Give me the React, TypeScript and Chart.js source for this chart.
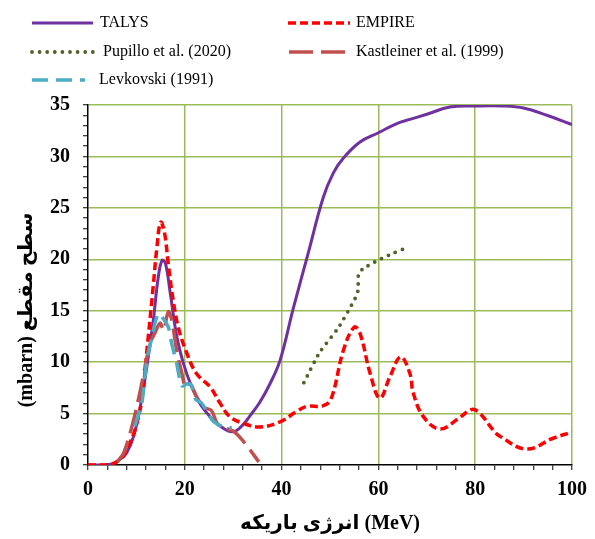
import React, { useEffect, useRef } from 'react';
import { Chart, registerables } from 'chart.js';

Chart.register(...registerables);

// Beam energy (MeV) and cross section (mbarn) for each series
const talysEnergy = [0, 3, 5, 6.5, 8, 9.5, 11, 12.3, 13.5, 14.5, 15.3, 16, 17, 18.3, 19.7, 21.1, 23.1, 25.2, 27, 29, 30.5, 32, 33.5, 35.5, 37.6, 39.7, 42.4, 45.5, 48.6, 50.7, 52.7, 56.2, 60, 63.8, 66.5, 70, 74.8, 80, 85.8, 90, 94.8, 100];
const talysXs = [0, 0, 0.1, 0.5, 1.2, 2.9, 6.2, 10, 14.1, 18.2, 19.9, 19.6, 16.7, 12.6, 9.9, 8, 6, 4.7, 3.9, 3.3, 3.3, 3.9, 4.8, 6.1, 7.9, 10.2, 15.2, 20.6, 26, 28.4, 29.8, 31.4, 32.3, 33.2, 33.6, 34.1, 34.8, 34.9, 34.9, 34.7, 34, 33.1];

const empireEnergy = [0, 3, 5, 6.5, 7.5, 8.5, 9.7, 11.1, 12.1, 13.5, 14.2, 15, 15.8, 16.6, 17.6, 18.7, 20.4, 22.4, 25.2, 27.3, 29.3, 32.1, 35.5, 39.7, 43.1, 45.2, 48.5, 50.2, 52.8, 55, 56.2, 58.3, 60.3, 62.4, 64.6, 66.5, 67.2, 69.3, 72.7, 76.5, 79.3, 81, 83.7, 85.1, 90.6, 96.1, 100];
const empireXs = [0, 0, 0.1, 0.5, 1.0, 2.0, 3.4, 6.3, 10.8, 17.5, 21, 23.6, 22.6, 19.5, 16, 13.3, 10.9, 8.9, 7.6, 6.0, 4.7, 4.05, 3.7, 4.2, 5.2, 5.7, 5.75, 6.4, 11.2, 13.4, 12.8, 8.9, 6.5, 8.6, 10.5, 8.9, 7.0, 4.7, 3.5, 4.5, 5.4, 5.0, 3.4, 2.8, 1.55, 2.6, 3.2];

const pupilloEnergy = [44.6, 47.8, 51.8, 55.2, 55.8, 55.9, 56.9, 59.9, 63.1, 66.3];
const pupilloXs = [8.0, 10.9, 13.4, 16.2, 17.0, 18.6, 19.1, 19.9, 20.6, 21.2];

const kastleinerEnergy = [6, 7.3, 8.7, 10, 11.4, 12.8, 13.8, 14.9, 15.6, 16.6, 17.3, 18.3, 19.4, 20.2, 21.1, 22.5, 24, 25.5, 26.6, 27.5, 30, 32.1, 35.3];
const kastleinerXs = [0.3, 1.1, 3.1, 5.5, 8.6, 11.8, 12.8, 13.8, 13.1, 14.9, 14.1, 11.2, 8.9, 7.5, 7.9, 6.6, 5.6, 5.3, 4.1, 3.7, 3.3, 2.3, 0.3];

const levkovskiEnergy = [9.7, 11.1, 12.1, 13.1, 14.5, 15.6, 16.6, 17.3, 18.3, 19.4, 20.5, 21.3, 22.2, 23.5, 24.9, 26, 27.5, 29.7];
const levkovskiXs = [3.8, 6.0, 9.9, 12.2, 14.7, 14.2, 13.4, 11.8, 9.9, 7.7, 7.9, 7.8, 6.4, 6.0, 4.9, 4.2, 3.8, 3.6];

const seriesLabels = ['TALYS', 'EMPIRE', 'Pupillo et al. (2020)', 'Kastleiner et al. (1999)', 'Levkovski (1991)'];

const xTitle = 'انرژی باریکه (MeV)';
const yTitle = '(mbarn) سطح مقطع';

const FONT = "'Liberation Serif', 'Times New Roman', 'DejaVu Sans', serif";
const GRID_GREEN = '#9BBB59';

const pts = (xs: number[], ys: number[]) => xs.map((x, i) => ({ x, y: ys[i] }));

// Legend slots laid out in two columns above the plot
const legendSlots = [
  { x: 32, y: 23, w: 61, tx: 100 },
  { x: 288, y: 23, w: 62, tx: 356 },
  { x: 32, y: 52, w: 61, tx: 103 },
  { x: 289, y: 52, w: 56, tx: 356 },
  { x: 32, y: 80, w: 53, tx: 99 },
];

const decorPlugin = {
  id: 'decor',
  afterDraw(chart: any) {
    const ctx = chart.ctx as CanvasRenderingContext2D;
    ctx.save();
    legendSlots.forEach((slot, i) => {
      const ds = chart.data.datasets[i];
      ctx.beginPath();
      ctx.strokeStyle = ds.borderColor;
      ctx.lineWidth = ds.borderWidth;
      ctx.setLineDash(ds.borderDash || []);
      ctx.lineCap = ds.borderCapStyle || 'butt';
      ctx.moveTo(slot.x, slot.y);
      ctx.lineTo(slot.x + slot.w, slot.y);
      ctx.stroke();
      ctx.setLineDash([]);
      ctx.fillStyle = '#000';
      ctx.font = `16px ${FONT}`;
      ctx.textBaseline = 'middle';
      ctx.textAlign = 'left';
      ctx.fillText(ds.label, slot.tx, slot.y);
    });
    // vertical axis title
    ctx.translate(27, 310);
    ctx.rotate(-Math.PI / 2);
    ctx.font = `bold 20px ${FONT}`;
    ctx.textAlign = 'center';
    ctx.textBaseline = 'middle';
    ctx.fillStyle = '#000';
    ctx.fillText(yTitle, 0, 0);
    ctx.restore();
  },
};

export default function App() {
  const canvasRef = useRef<HTMLCanvasElement | null>(null);

  useEffect(() => {
    if (!canvasRef.current) return;
    const chart = new Chart(canvasRef.current, {
      type: 'line',
      data: {
        datasets: [
          {
            label: seriesLabels[0],
            data: pts(talysEnergy, talysXs),
            borderColor: '#7030A0',
            borderWidth: 3,
            tension: 0.4,
            order: 5,
          },
          {
            label: seriesLabels[1],
            data: pts(empireEnergy, empireXs),
            borderColor: '#FF0000',
            borderWidth: 3.5,
            borderDash: [8, 4],
            tension: 0.4,
            order: 4,
          },
          {
            label: seriesLabels[2],
            data: pts(pupilloEnergy, pupilloXs),
            borderColor: '#4F6228',
            borderWidth: 3.8,
            borderDash: [0, 7.6],
            borderCapStyle: 'round',
            tension: 0.2,
            order: 3,
          },
          {
            label: seriesLabels[3],
            data: pts(kastleinerEnergy, kastleinerXs),
            borderColor: '#C0504D',
            borderWidth: 3.5,
            borderDash: [24, 8],
            tension: 0.3,
            order: 2,
          },
          {
            label: seriesLabels[4],
            data: pts(levkovskiEnergy, levkovskiXs),
            borderColor: '#4BACC6',
            borderWidth: 3.5,
            borderDash: [16, 8],
            tension: 0.3,
            order: 1,
          },
        ] as any,
      },
      options: {
        responsive: false,
        animation: false,
        devicePixelRatio: 1,
        layout: { padding: { top: 105, left: 0, right: 23, bottom: 0 } },
        elements: { point: { radius: 0, hoverRadius: 0 } },
        plugins: {
          legend: { display: false },
          tooltip: { enabled: false },
        },
        scales: {
          x: {
            type: 'linear',
            min: 0,
            max: 100,
            afterFit: (scale: any) => {
              scale.height = 74;
            },
            ticks: {
              stepSize: 4,
              autoSkip: false,
              maxRotation: 0,
              padding: 8,
              color: '#000',
              font: { family: FONT, size: 20, weight: 'bold' },
              callback: (v: any) => (Number(v) % 20 === 0 ? String(v) : ''),
            },
            grid: {
              color: (c: any) => (c.tick && c.tick.value % 20 === 0 && c.tick.value !== 0 ? GRID_GREEN : 'rgba(0,0,0,0)'),
              lineWidth: 1.5,
              tickColor: '#000',
              tickLength: 5,
              tickWidth: 1,
            },
            border: { color: '#000', width: 1.5 },
            title: {
              display: true,
              text: xTitle,
              color: '#000',
              font: { family: FONT, size: 20, weight: 'bold' },
              padding: { top: 0, bottom: 3 },
            },
          },
          y: {
            type: 'linear',
            min: 0,
            max: 35,
            afterFit: (scale: any) => {
              scale.width = 88;
            },
            ticks: {
              stepSize: 1,
              autoSkip: false,
              padding: 13,
              color: '#000',
              font: { family: FONT, size: 20, weight: 'bold' },
              callback: (v: any) => (Number(v) % 5 === 0 ? String(v) : ''),
            },
            grid: {
              color: (c: any) => (c.tick && c.tick.value % 5 === 0 && c.tick.value !== 0 ? GRID_GREEN : 'rgba(0,0,0,0)'),
              lineWidth: 1.5,
              tickColor: '#000',
              tickLength: 5,
              tickWidth: 1,
            },
            border: { color: '#000', width: 1.5 },
            title: { display: false },
          },
        },
      } as any,
      plugins: [decorPlugin],
    });
    return () => chart.destroy();
  }, []);

  return (
    <div style={{ position: 'absolute', left: 0, top: 0, width: 595, height: 539, background: '#fff' }}>
      <canvas ref={canvasRef} width={595} height={539} style={{ display: 'block', width: 595, height: 539 }} />
    </div>
  );
}
